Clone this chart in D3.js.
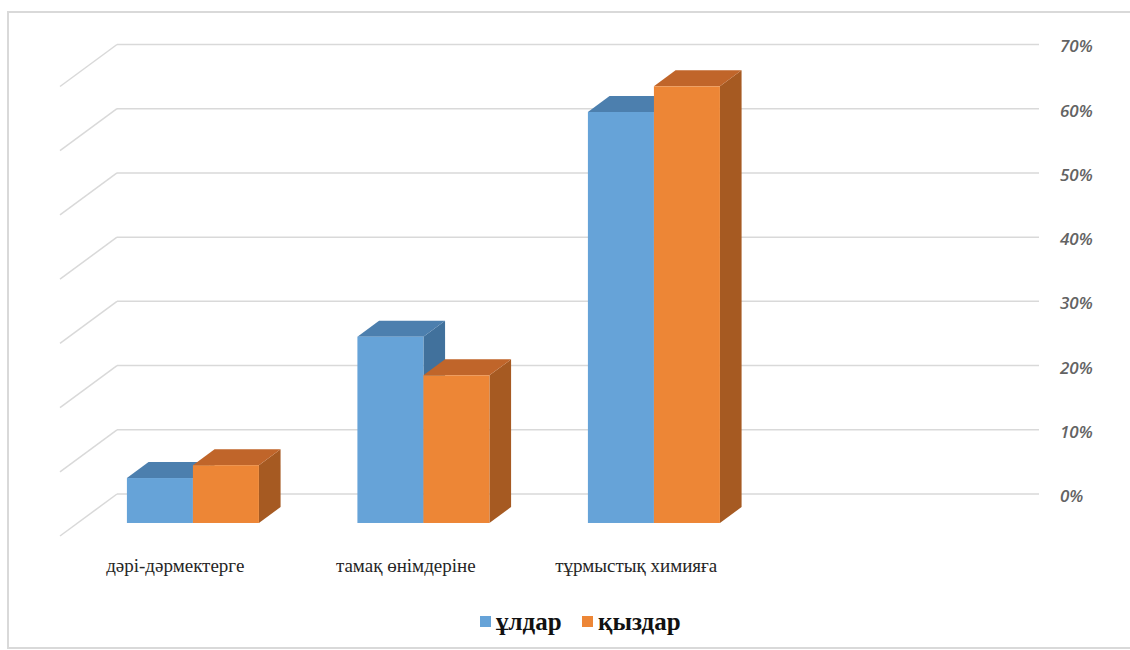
<!DOCTYPE html>
<html lang="kk"><head><meta charset="utf-8">
<script src="https://cdn.jsdelivr.net/npm/d3@7"></script>
<style>
html,body{margin:0;padding:0;background:#fff;}
#wrap{position:relative;width:1130px;height:650px;}
#wrap svg{position:absolute;left:0;top:0;}
.lbl{position:absolute;white-space:nowrap;font-family:"Liberation Serif","Times New Roman","DejaVu Serif",serif;}
</style>
</head><body>
<div id="wrap"><svg id="c" width="1130" height="650"></svg></div>
<script>
const categories = ["дәрі-дәрмектерге", "тамақ өнімдеріне", "тұрмыстық химияға"];
const series = ["ұлдар", "қыздар"];
const boys  = [0.07, 0.29, 0.64];
const girls = [0.09, 0.23, 0.68];
const tickValues = [0, 0.1, 0.2, 0.3, 0.4, 0.5, 0.6, 0.7];

const front = ["#66A3D8", "#ED8636"];
const topC  = ["#4C7FAE", "#C0652A"];
const sideC = ["#41719C", "#A65A22"];

const wrap = d3.select("#wrap");
const svg = d3.select("#c");
svg.append("rect").attr("x", 8).attr("y", 12).attr("width", 1140).attr("height", 636)
  .attr("fill", "#fff").attr("stroke", "#D9D9D9").attr("stroke-width", 2);

const wx0 = 117, wx1 = 1039;
const y = d3.scaleLinear().domain([0, 0.7]).range([494, 44.5]);
const DX = -57, DY = 42;
const fFront = 0.69, fBack = 0.31;

const slots = categories.concat(["\u200b"]);
const x = d3.scaleBand().domain(slots).range([wx0, wx1]).paddingInner(0).paddingOuter(0);
const xs = d3.scaleBand().domain(series).range([0, x.bandwidth()]).paddingInner(0).paddingOuter(0.746);

const g = svg.append("g");
tickValues.forEach(t => {
  g.append("line").attr("x1", wx0).attr("x2", wx1).attr("y1", y(t)).attr("y2", y(t))
    .attr("stroke", "#D9D9D9").attr("stroke-width", 1.5);
  g.append("line").attr("x1", wx0).attr("y1", y(t)).attr("x2", wx0 + DX).attr("y2", y(t) + DY)
    .attr("stroke", "#D9D9D9").attr("stroke-width", 1.5);
});

const bars = [];
categories.forEach((c, i) => {
  [boys[i], girls[i]].forEach((v, s) => bars.push({c, s, v}));
});
const fx = DX * fFront, fy = DY * fFront;
const bdx = DX * (fBack - fFront), bdy = DY * (fBack - fFront);
bars.forEach(b => {
  const xl = x(b.c) + xs(series[b.s]) + fx;
  const xr = xl + xs.bandwidth();
  const yt = y(b.v) + fy, yb = y(0) + fy;
  const bg = g.append("g");
  bg.append("path").attr("d", `M${xr},${yt}L${xr + bdx},${yt + bdy}L${xr + bdx},${yb + bdy}L${xr},${yb}Z`)
    .attr("fill", sideC[b.s]);
  bg.append("path").attr("d", `M${xl},${yt}L${xl + bdx},${yt + bdy}L${xr + bdx},${yt + bdy}L${xr},${yt}Z`)
    .attr("fill", topC[b.s]);
  bg.append("rect").attr("x", xl).attr("y", yt).attr("width", xr - xl).attr("height", yb - yt)
    .attr("fill", front[b.s]);
});

const axis = d3.axisRight(y).tickValues(tickValues).tickFormat(d3.format(".0%")).tickSize(0).tickPadding(0);
const ag = svg.append("g").attr("transform", `translate(1060,2)`).call(axis);
ag.select(".domain").remove();
ag.selectAll("text").style("font-family", '"Open Sans"').style("font-style", "italic")
  .style("font-weight", 600).style("font-size", "17px").attr("fill", "#636363").attr("text-anchor", "start");

categories.forEach(c => {
  wrap.append("div").attr("class", "lbl")
    .style("left", (x(c) + x.bandwidth() / 2 + DX) + "px").style("top", "556px")
    .style("transform", "translateX(-50%)")
    .style("font-size", "19px").style("line-height", "19px").style("color", "#262626")
    .text(c);
});

const legX = [480, 582];
series.forEach((s, i) => {
  svg.append("rect").attr("x", legX[i]).attr("y", 616).attr("width", 11).attr("height", 11).attr("fill", front[i]);
  wrap.append("div").attr("class", "lbl")
    .style("left", (legX[i] + 16) + "px").style("top", "609px")
    .style("font-size", "25px").style("line-height", "25px").style("font-weight", "bold").style("color", "#111")
    .text(s);
});
</script>
</body></html>
